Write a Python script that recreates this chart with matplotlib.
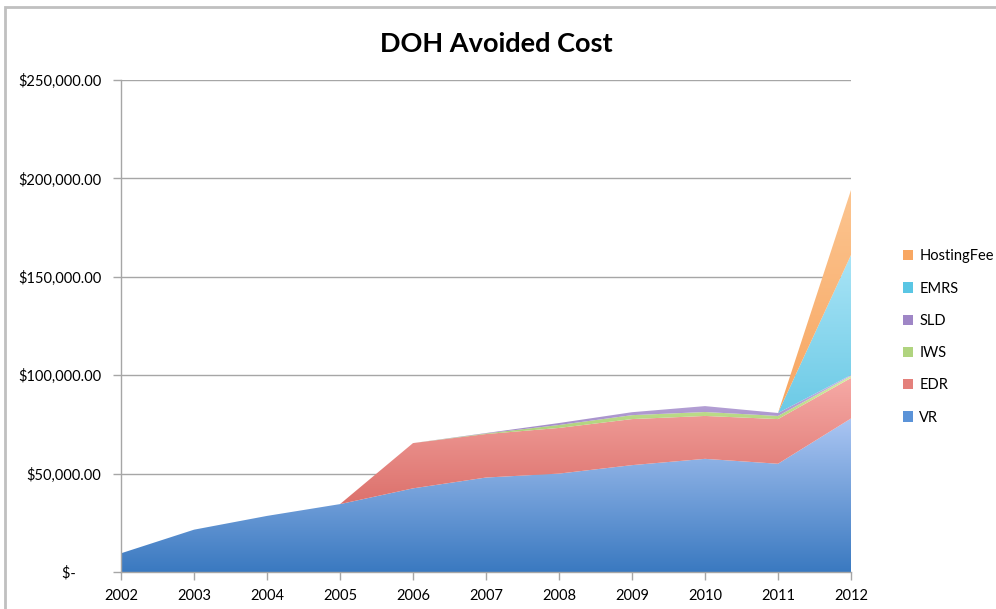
import numpy as np
import matplotlib
matplotlib.use("Agg")
import matplotlib.pyplot as plt
from matplotlib.colors import LinearSegmentedColormap
from matplotlib.patches import Rectangle, Patch
from matplotlib.ticker import FuncFormatter

years = [2002, 2003, 2004, 2005, 2006, 2007, 2008, 2009, 2010, 2011, 2012]
VR = [9500, 21500, 28500, 34500, 42500, 48000, 50000, 54300, 57500, 55000, 78000]
EDR = [0, 0, 0, 0, 23000, 22100, 23200, 23400, 21800, 22700, 20600]
IWS = [0, 0, 0, 0, 0, 300, 1500, 2000, 2000, 1600, 1000]
SLD = [0, 0, 0, 0, 0, 200, 1000, 1500, 3000, 1500, 500]
EMRS = [0, 0, 0, 0, 0, 0, 0, 0, 0, 0, 61000]
HostingFee = [0, 0, 0, 0, 0, 0, 0, 0, 0, 0, 33000]

series_names = ["VR", "EDR", "IWS", "SLD", "EMRS", "HostingFee"]
series_vals = [VR, EDR, IWS, SLD, EMRS, HostingFee]
# (bottom colour, top colour)
grads = [("#3a79c0", "#abc6f3"),
         ("#dc716c", "#f6aaa6"),
         ("#a6cc72", "#d6eea4"),
         ("#9a82c2", "#c9b8e4"),
         ("#6ccae6", "#a9e4f6"),
         ("#f7a560", "#fcc590")]
legend_cols = ["#5b93d8", "#e4807b", "#b0d47f", "#9f86c6", "#5ac6e4", "#f8a762"]

plt.rcParams['font.family'] = ['Lato', 'DejaVu Sans']

fig = plt.figure(figsize=(9.96, 6.09), dpi=100)
ax = fig.add_axes([121/996, 1 - 572/609, (851-121)/996, (572-80)/609])

x = np.array(years, dtype=float)
n = len(x)
base = np.zeros(n)
for name, vals, (c0, c1) in zip(series_names, series_vals, grads):
    v = np.array(vals, dtype=float)
    top = base + v
    if v.max() > 0:
        nz = np.where(v > 0)[0]
        idx = set()
        for i in nz:
            idx.update([max(i - 1, 0), i, min(i + 1, n - 1)])
        idx = sorted(idx)
        poly = ax.fill_between(x, base, top, facecolor='none',
                               edgecolor='none', linewidth=0)
        ylo = base[idx].min()
        yhi = top.max()
        cmap = LinearSegmentedColormap.from_list(name, [c0, c1])
        grad = np.linspace(0, 1, 256).reshape(-1, 1)
        im = ax.imshow(grad, cmap=cmap, aspect='auto', origin='lower',
                       extent=[x[0], x[-1], ylo, yhi], zorder=2,
                       interpolation='bilinear')
        path = poly.get_paths()[0]
        im.set_clip_path(path, transform=ax.transData)
    base = top

ax.set_xlim(years[0], years[-1])
ax.set_ylim(0, 250000)
ax.set_xticks(years)
ax.set_yticks([0, 50000, 100000, 150000, 200000, 250000])

def fmt(v, pos):
    if v == 0:
        return "$-       "
    return "${:,.2f}".format(v)
ax.yaxis.set_major_formatter(FuncFormatter(fmt))

ax.grid(axis='y', color='#a6a6a6', linewidth=1)
ax.set_axisbelow(True)
for s in ['top', 'right']:
    ax.spines[s].set_visible(False)
for s in ['left', 'bottom']:
    ax.spines[s].set_color('#a6a6a6')
    ax.spines[s].set_linewidth(1)
    ax.spines[s].set_zorder(3)
ax.tick_params(axis='both', colors='#a6a6a6', labelcolor='black', labelsize=10.5,
               length=6, width=1, direction='out')
ax.tick_params(axis='x', pad=6)
ax.tick_params(axis='y', pad=8)

fig.text(496/996, 1 - 44/609, "DOH Avoided Cost", ha='center', va='center',
         fontsize=19.5, fontweight='bold')

handles = [Patch(facecolor=c, edgecolor='none', label=nm)
           for nm, c in zip(series_names, legend_cols)]
leg = fig.legend(handles[::-1], series_names[::-1], loc='center left',
                 bbox_to_anchor=(890/996, 1 - 337/609), frameon=False,
                 fontsize=10.5, handlelength=0.7, handleheight=0.7,
                 handletextpad=0.4, labelspacing=1.25)

fig.patches.append(Rectangle((5/996, -0.1), 1.2, 1 - 7/609 + 0.1,
                             transform=fig.transFigure, fill=False,
                             edgecolor='#c0c0c0', linewidth=2))

fig.savefig("out.png", dpi=100)
